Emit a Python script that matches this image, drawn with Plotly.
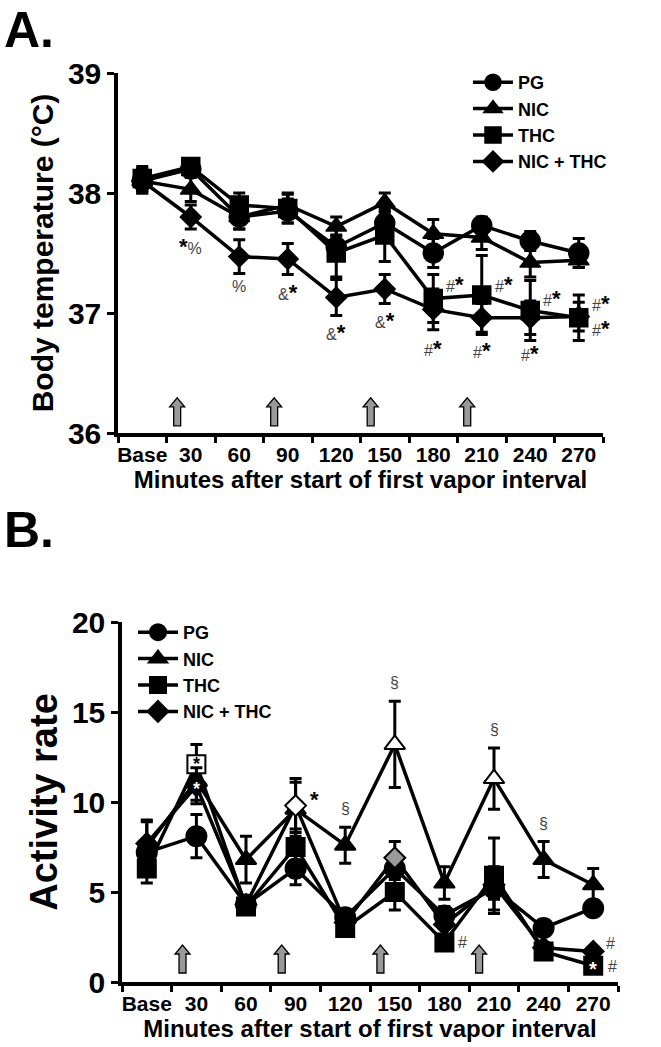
import plotly.graph_objects as go

# ---------------- data ----------------
categories = ["Base", "30", "60", "90", "120", "150", "180", "210", "240", "270"]
groups = ["PG", "NIC", "THC", "NIC + THC"]

# Panel A: body temperature (deg C), mean and SEM
temp_pg = [38.10, 38.20, 37.80, 37.85, 37.55, 37.75, 37.50, 37.73, 37.60, 37.50]
temp_pg_err = [0.10, 0.05, 0.10, 0.10, 0.10, 0.10, 0.12, 0.07, 0.08, 0.12]
temp_nic = [38.10, 38.03, 37.80, 37.90, 37.72, 37.92, 37.66, 37.63, 37.42, 37.44]
temp_nic_err = [0.10, 0.10, 0.10, 0.10, 0.08, 0.08, 0.12, 0.10, 0.12, 0.06]
temp_thc = [38.12, 38.22, 37.90, 37.87, 37.50, 37.65, 37.12, 37.15, 37.02, 36.96]
temp_thc_err = [0.10, 0.05, 0.10, 0.12, 0.20, 0.22, 0.20, 0.33, 0.25, 0.19]
temp_combo = [38.10, 37.80, 37.47, 37.45, 37.13, 37.20, 37.03, 36.96, 36.96, 36.97]
temp_combo_err = [0.08, 0.10, 0.14, 0.13, 0.15, 0.12, 0.17, 0.12, 0.14, 0.12]

# Panel B: activity rate, mean and SEM
act_pg = [7.2, 8.1, 4.3, 6.3, 3.6, 6.3, 3.7, 5.2, 3.0, 4.1]
act_pg_err = [0.7, 1.2, 0.3, 0.9, 0.4, 0.6, 0.5, 1.2, 0.3, 0.3]
act_nic = [7.5, 11.2, 6.8, 9.6, 7.6, 13.2, 5.5, 11.3, 6.8, 5.4]
act_nic_err = [1.4, 1.1, 1.3, 1.5, 1.0, 2.4, 0.9, 1.7, 1.0, 0.9]
act_thc = [6.3, 12.1, 4.2, 7.5, 3.0, 5.0, 2.2, 5.9, 1.7, 0.9]
act_thc_err = [0.8, 1.1, 0.3, 1.0, 0.4, 1.0, 0.4, 2.1, 0.4, 0.2]
act_combo = [7.7, 10.9, 4.3, 9.8, 3.3, 6.9, 3.2, 5.4, 1.9, 1.7]
act_combo_err = [1.3, 1.0, 0.3, 1.5, 0.5, 0.9, 0.6, 0.8, 0.3, 0.2]

# marker fill per point in panel B (white = significant vs PG, grey = other)
act_pg_fill = ["black"] * 10
act_nic_fill = ["black"] * 5 + ["white", "black", "white", "black", "black"]
act_thc_fill = ["black", "white"] + ["black"] * 8
act_combo_fill = ["black", "black", "black", "white", "black", "#9a9a9a",
                  "black", "black", "black", "black"]

# vapor interval arrows (category-index position)
vapor_arrow_pos = [0.72, 2.72, 4.71, 6.70]

# significance labels: (series, index, text, xshift, yshift, placement)
temp_labels = [
    ("combo", 1, "*%", 0, -3, "below"),
    ("combo", 2, "%", 0, -3, "below"),
    ("combo", 3, "&*", 0, -3, "below"),
    ("combo", 4, "&*", 0, -3, "below"),
    ("combo", 5, "&*", 0, -3, "below"),
    ("combo", 6, "#*", 0, -4, "below"),
    ("combo", 7, "#*", 0, -4, "below"),
    ("combo", 8, "#*", 0, -4, "below"),
    ("combo", 9, "#*", 11, -12, "right"),
    ("thc", 6, "#*", 11, 14, "right"),
    ("thc", 7, "#*", 11, 11, "right"),
    ("thc", 8, "#*", 11, 12, "right"),
    ("thc", 9, "#*", 11, 14, "right"),
]
act_labels = [
    ("thc", 1, "*", 0, 0, "center", "black", 18),
    ("nic", 1, "*", 0, -9, "center", "white", 18),
    ("combo", 3, "*", 12, 6, "right", "black", 22),
    ("nic", 4, "§", 0, 8, "above", "#444444", 22),
    ("nic", 5, "§", 0, 8, "above", "#444444", 22),
    ("nic", 7, "§", 0, 8, "above", "#444444", 22),
    ("nic", 8, "§", 0, 8, "above", "#444444", 22),
    ("thc", 6, "#", 12, 0, "right", "#444444", 22),
    ("combo", 9, "#", 11, 8, "right", "#444444", 22),
    ("thc", 9, "#", 13, -1, "right", "#444444", 22),
    ("thc", 9, "*", 0, -3, "center", "white", 20),
]

# ---------------- figure ----------------
FONT = "Liberation Sans, Arial, sans-serif"
W, H = 661, 1047

symbols = {"PG": "circle", "NIC": "triangle-up", "THC": "square", "NIC + THC": "diamond"}
sizes = {"PG": 20, "NIC": 18, "THC": 18, "NIC + THC": 16}

temp = {"PG": (temp_pg, temp_pg_err), "NIC": (temp_nic, temp_nic_err),
        "THC": (temp_thc, temp_thc_err), "NIC + THC": (temp_combo, temp_combo_err)}
act = {"PG": (act_pg, act_pg_err, act_pg_fill), "NIC": (act_nic, act_nic_err, act_nic_fill),
       "THC": (act_thc, act_thc_err, act_thc_fill),
       "NIC + THC": (act_combo, act_combo_err, act_combo_fill)}

fig = go.Figure()

for g in groups:
    vals, err = temp[g]
    fig.add_trace(go.Scatter(
        x=categories, y=vals, mode="lines+markers", name=g, legend="legend",
        line=dict(color="black", width=3.5),
        marker=dict(symbol=symbols[g], size=sizes[g], color="black",
                    line=dict(color="black", width=1.5)),
        error_y=dict(type="data", array=err, visible=True, color="black",
                     thickness=3, width=6),
        xaxis="x", yaxis="y"))

for g in groups:
    vals, err, fill = act[g]
    fig.add_trace(go.Scatter(
        x=categories, y=vals, mode="lines+markers", name=g, legend="legend2",
        line=dict(color="black", width=3.5),
        marker=dict(symbol=symbols[g], size=sizes[g], color=fill,
                    line=dict(color="black", width=2)),
        error_y=dict(type="data", array=err, visible=True, color="black",
                     thickness=3, width=6),
        xaxis="x2", yaxis="y2"))

# arrows
arrow_path = "M-3.5,0 L3.5,0 L3.5,19 L7.5,19 L0,28 L-7.5,19 L-3.5,19 Z"
for xr, yr, base in (("x", "y", 36.06), ("x2", "y2", 0.5)):
    for p in vapor_arrow_pos:
        fig.add_shape(type="path", xref=xr, yref=yr, xsizemode="pixel", ysizemode="pixel",
                      xanchor=p, yanchor=base, path=arrow_path,
                      fillcolor="#999999", line=dict(color="black", width=1.3))

series_temp = {"pg": temp_pg, "nic": temp_nic, "thc": temp_thc, "combo": temp_combo}
series_temp_err = {"pg": temp_pg_err, "nic": temp_nic_err, "thc": temp_thc_err, "combo": temp_combo_err}
series_act = {"pg": act_pg, "nic": act_nic, "thc": act_thc, "combo": act_combo}
series_act_err = {"pg": act_pg_err, "nic": act_nic_err, "thc": act_thc_err, "combo": act_combo_err}


def styled(txt, color="#444444", star_size=22):
    out = ""
    for ch in txt:
        if ch == "*":
            c = "white" if color == "white" else "black"
            out += "<b><span style='color:%s;font-size:%dpx'>*</span></b>" % (c, star_size)
        else:
            out += "<span style='color:%s'>%s</span>" % (color, ch)
    return out


for s, i, txt, xs, ys, place in temp_labels:
    y = series_temp[s][i]
    if place == "below":
        y = y - series_temp_err[s][i]
    fig.add_annotation(x=i, y=y, xref="x", yref="y", text=styled(txt), showarrow=False,
                       xanchor="left" if place == "right" else "center",
                       yanchor="top" if place == "below" else "middle",
                       xshift=xs, yshift=ys, font=dict(family=FONT, size=16, color="#444444"))

for s, i, txt, xs, ys, place, col, ss in act_labels:
    y = series_act[s][i]
    if place == "above":
        y = y + series_act_err[s][i]
    fig.add_annotation(x=i, y=y, xref="x2", yref="y2", text=styled(txt, col, ss), showarrow=False,
                       xanchor="left" if place == "right" else "center",
                       yanchor="bottom" if place == "above" else "middle",
                       xshift=xs, yshift=ys, font=dict(family=FONT, size=16 if txt != "*" else ss, color=col))

# panel letters
fig.add_annotation(x=2 / W, y=1 - 0 / H, xref="paper", yref="paper", text="<b>A.</b>",
                   showarrow=False, xanchor="left", yanchor="top",
                   font=dict(family=FONT, size=50, color="black"))
fig.add_annotation(x=2 / W, y=1 - 500 / H, xref="paper", yref="paper", text="<b>B.</b>",
                   showarrow=False, xanchor="left", yanchor="top",
                   font=dict(family=FONT, size=50, color="black"))

xaxis_common = dict(type="category", categoryorder="array", categoryarray=categories,
                    range=[-0.5, 9.5], tickson="boundaries", ticks="outside", ticklen=6,
                    tickwidth=3, tickcolor="black", showline=True, linewidth=3.5,
                    linecolor="black", showgrid=False, zeroline=False, tickangle=0,
                    tickfont=dict(family=FONT, size=21, color="black", weight="bold"),
                    title=dict(text="Minutes after start of first vapor interval", standoff=2,
                               font=dict(family=FONT, size=24, color="black", weight="bold")),
                    automargin=False, fixedrange=True)
yaxis_common = dict(ticks="outside", ticklen=7, tickwidth=3, tickcolor="black", showline=True,
                    linewidth=3.5, linecolor="black", showgrid=False, zeroline=False,
                    tickfont=dict(family=FONT, size=30, color="black", weight="bold"),
                    automargin=False, fixedrange=True)

fig.update_layout(
    width=W, height=H, margin=dict(l=0, r=0, t=0, b=0),
    paper_bgcolor="white", plot_bgcolor="white", showlegend=True,
    xaxis=dict(xaxis_common, domain=[118 / W, 603 / W], anchor="y"),
    yaxis=dict(yaxis_common, domain=[1 - 433 / H, 1 - 73 / H], anchor="x", range=[36, 39], dtick=1,
               title=dict(text="Body temperature (°C)", standoff=6,
                          font=dict(family=FONT, size=30, color="black", weight="bold"))),
    xaxis2=dict(xaxis_common, domain=[122 / W, 618 / W], anchor="y2"),
    yaxis2=dict(yaxis_common, domain=[1 - 982 / H, 1 - 622 / H], anchor="x2", range=[0, 20], dtick=5,
                title=dict(text="Activity rate", standoff=4,
                           font=dict(family=FONT, size=38, color="black", weight="bold"))),
    legend=dict(x=468 / W, y=1 - 64 / H, xanchor="left", yanchor="top", bgcolor="rgba(0,0,0,0)",
                font=dict(family=FONT, size=18, color="black", weight="bold"), itemwidth=40,
                tracegroupgap=0),
    legend2=dict(x=133 / W, y=1 - 614 / H, xanchor="left", yanchor="top", bgcolor="rgba(0,0,0,0)",
                 font=dict(family=FONT, size=18, color="black", weight="bold"), itemwidth=40,
                 tracegroupgap=0),
)

fig.write_html("out.html", config={"displayModeBar": False},
               post_script="document.body.style.margin='0px';")
